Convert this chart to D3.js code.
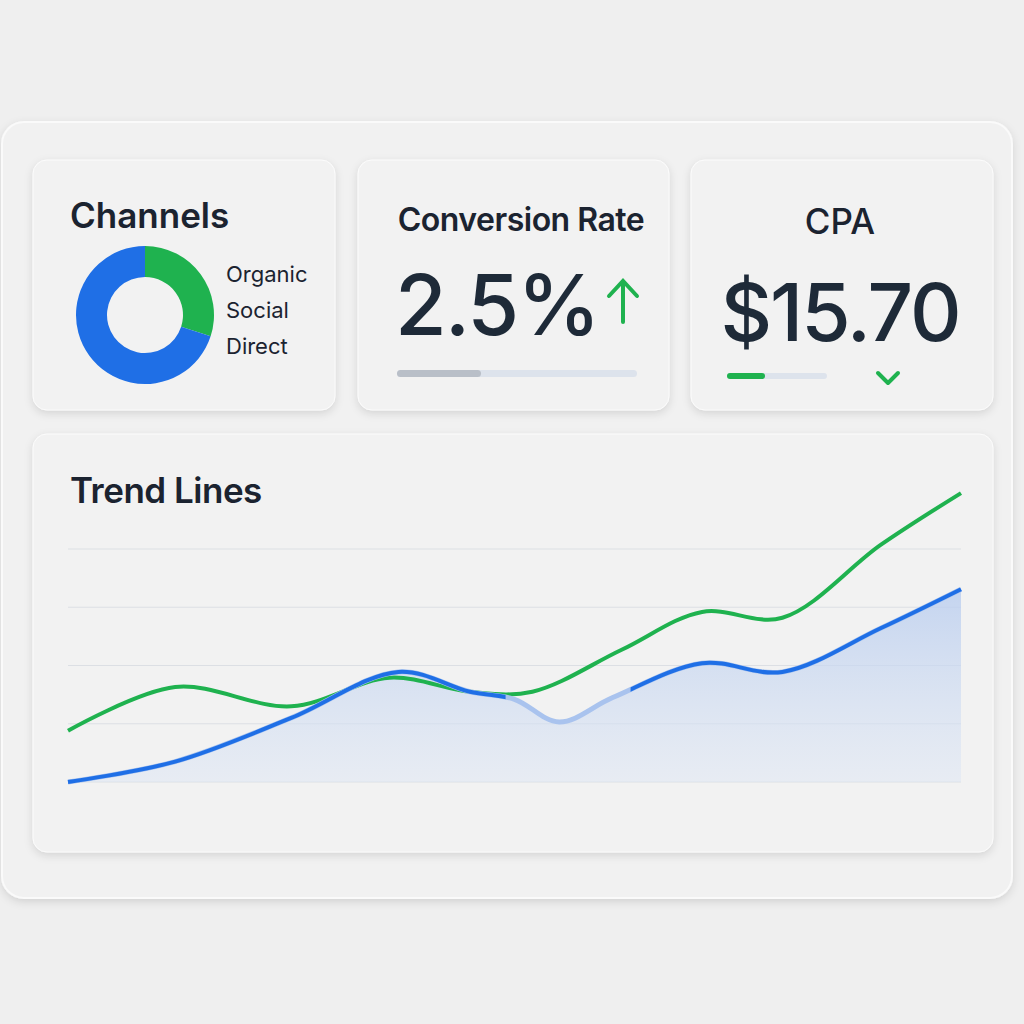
<!DOCTYPE html>
<html><head><meta charset="utf-8">
<script src="https://cdn.jsdelivr.net/npm/d3@7"></script>
<style>body{margin:0;background:#efefef}</style></head>
<body><svg id="c" width="1024" height="1024"></svg>
<script>
const channels=["Organic","Social","Direct"];
const channelShare=[30,70];
const convRate="2.5%";
const convProgress=0.35;
const cpaValue="$15.70";
const cpaProgress=0.38;
const trendX=[0,12,25,36,45,52,62,71,80,91,100];
const greenVals=[0.88,1.63,1.30,1.79,1.55,1.55,2.27,2.92,2.82,4.07,4.96];
const blueX=[0,12,25,37,45,50,55,61,71,80,91,100];
const blueVals=[0,0.35,1.10,1.89,1.55,1.42,1.03,1.45,2.04,1.89,2.64,3.31];
const gridTicks=[0,1,2,3,4];

const svg=d3.select("#c");
const F="Inter, 'Noto Sans', sans-serif";
const defs=svg.append("defs");
const sh=defs.append("filter").attr("id","sh").attr("x","-10%").attr("y","-10%").attr("width","120%").attr("height","130%");
sh.append("feDropShadow").attr("dx",0).attr("dy",3).attr("stdDeviation",4).attr("flood-color","#000").attr("flood-opacity",0.12);
const g1=defs.append("linearGradient").attr("id","ag").attr("x1",0).attr("x2",0).attr("y1",0).attr("y2",1);
g1.append("stop").attr("offset","0%").attr("stop-color","#b9cdef").attr("stop-opacity",0.8);
g1.append("stop").attr("offset","100%").attr("stop-color","#dde6f4").attr("stop-opacity",0.5);

svg.append("rect").attr("width",1024).attr("height",1024).attr("fill","#efefef");
svg.append("rect").attr("x",2).attr("y",122).attr("width",1010).attr("height",776).attr("rx",22).attr("fill","#f1f1f1").attr("stroke","#fafafa").attr("stroke-width",2).attr("filter","url(#sh)");
function card(x,y,w,h){svg.append("rect").attr("x",x).attr("y",y).attr("width",w).attr("height",h).attr("rx",14).attr("fill","#f2f2f2").attr("stroke","#fbfbfb").attr("filter","url(#sh)");}
card(33,160,302,250);card(358,160,311,250);card(691,160,302,250);card(33,434,960,418);

svg.append("text").attr("x",70).attr("y",228).attr("font-family",F).attr("font-size",35).attr("font-weight",600).attr("fill","#1b2330").text("Channels");
const pie=d3.pie().sort(null)(channelShare);
const arc=d3.arc().innerRadius(38).outerRadius(69);
const dg=svg.append("g").attr("transform","translate(145,315)");
dg.selectAll("path").data(pie).join("path").attr("d",arc).attr("fill",(d,i)=>i===0?"#1fb24f":"#1f6fe6");
channels.forEach((c,i)=>svg.append("text").attr("x",226).attr("y",282+i*36).attr("font-family",F).attr("font-size",22).attr("fill","#1b2330").text(c));

svg.append("text").attr("x",521).attr("y",231).attr("text-anchor","middle").attr("font-family",F).attr("font-size",32).attr("font-weight",600).attr("letter-spacing",-0.5).attr("fill","#1b2330").text("Conversion Rate");
svg.append("text").attr("x",395).attr("y",335).attr("font-family",F).attr("font-size",84).attr("font-weight",500).attr("letter-spacing",-2).attr("fill","#1e2a38").text(convRate);
svg.append("path").attr("d","M623,322 L623,282 M609,296 L623,281 L637,296").attr("stroke","#1fb24f").attr("stroke-width",4).attr("fill","none").attr("stroke-linecap","round");
const bx=d3.scaleLinear().domain([0,1]).range([397,637]);
svg.append("rect").attr("x",bx(0)).attr("y",370).attr("width",bx(1)-bx(0)).attr("height",7).attr("rx",3.5).attr("fill","#dde3ec");
svg.append("rect").attr("x",bx(0)).attr("y",370).attr("width",bx(convProgress)-bx(0)).attr("height",7).attr("rx",3.5).attr("fill","#b9bfc8");

svg.append("text").attr("x",840).attr("y",234).attr("text-anchor","middle").attr("font-family",F).attr("font-size",35).attr("font-weight",500).attr("fill","#1b2330").text("CPA");
svg.append("text").attr("x",840).attr("y",341).attr("text-anchor","middle").attr("font-family",F).attr("font-size",80).attr("font-weight",500).attr("letter-spacing",-2).attr("fill","#1e2a38").text(cpaValue);
const cx=d3.scaleLinear().domain([0,1]).range([727,827]);
svg.append("rect").attr("x",cx(0)).attr("y",373).attr("width",cx(1)-cx(0)).attr("height",6).attr("rx",3).attr("fill","#dde3ec");
svg.append("rect").attr("x",cx(0)).attr("y",373).attr("width",cx(cpaProgress)-cx(0)).attr("height",6).attr("rx",3).attr("fill","#1fb24f");
svg.append("path").attr("d","M878,373 L888,383 L898,373").attr("stroke","#1fb24f").attr("stroke-width",4).attr("fill","none").attr("stroke-linecap","round").attr("stroke-linejoin","round");

svg.append("text").attr("x",70).attr("y",503).attr("font-family",F).attr("font-size",35).attr("font-weight",600).attr("letter-spacing",-0.5).attr("fill","#1b2330").text("Trend Lines");
const x=d3.scaleLinear().domain([0,100]).range([68,961]);
const y=d3.scaleLinear().domain([0,4]).range([782,549]);
svg.selectAll(".gl").data(gridTicks).join("line").attr("x1",68).attr("x2",961).attr("y1",d=>y(d)).attr("y2",d=>y(d)).attr("stroke","#dcdfe4").attr("stroke-width",1.2);
const gd=trendX.map((v,i)=>[v,greenVals[i]]);
const bd=blueX.map((v,i)=>[v,blueVals[i]]);
const curve=d3.curveCatmullRom.alpha(0.5);
svg.append("path").datum(bd).attr("d",d3.area().x(d=>x(d[0])).y0(y(0)).y1(d=>y(d[1])).curve(curve)).attr("fill","url(#ag)");
svg.append("path").datum(gd).attr("d",d3.line().x(d=>x(d[0])).y(d=>y(d[1])).curve(curve)).attr("fill","none").attr("stroke","#1fb24f").attr("stroke-width",4);
const bl=d3.line().x(d=>x(d[0])).y(d=>y(d[1])).curve(curve);
svg.append("path").datum(bd).attr("d",bl).attr("fill","none").attr("stroke","#a9c3ee").attr("stroke-width",5);
const cp=defs.append("clipPath").attr("id","bc");
cp.append("rect").attr("x",0).attr("y",0).attr("width",x(49)).attr("height",1024);
cp.append("rect").attr("x",x(63)).attr("y",0).attr("width",1024).attr("height",1024);
svg.append("path").datum(bd).attr("d",bl).attr("fill","none").attr("stroke","#1f6fe6").attr("stroke-width",4).attr("clip-path","url(#bc)");
</script></body></html>
